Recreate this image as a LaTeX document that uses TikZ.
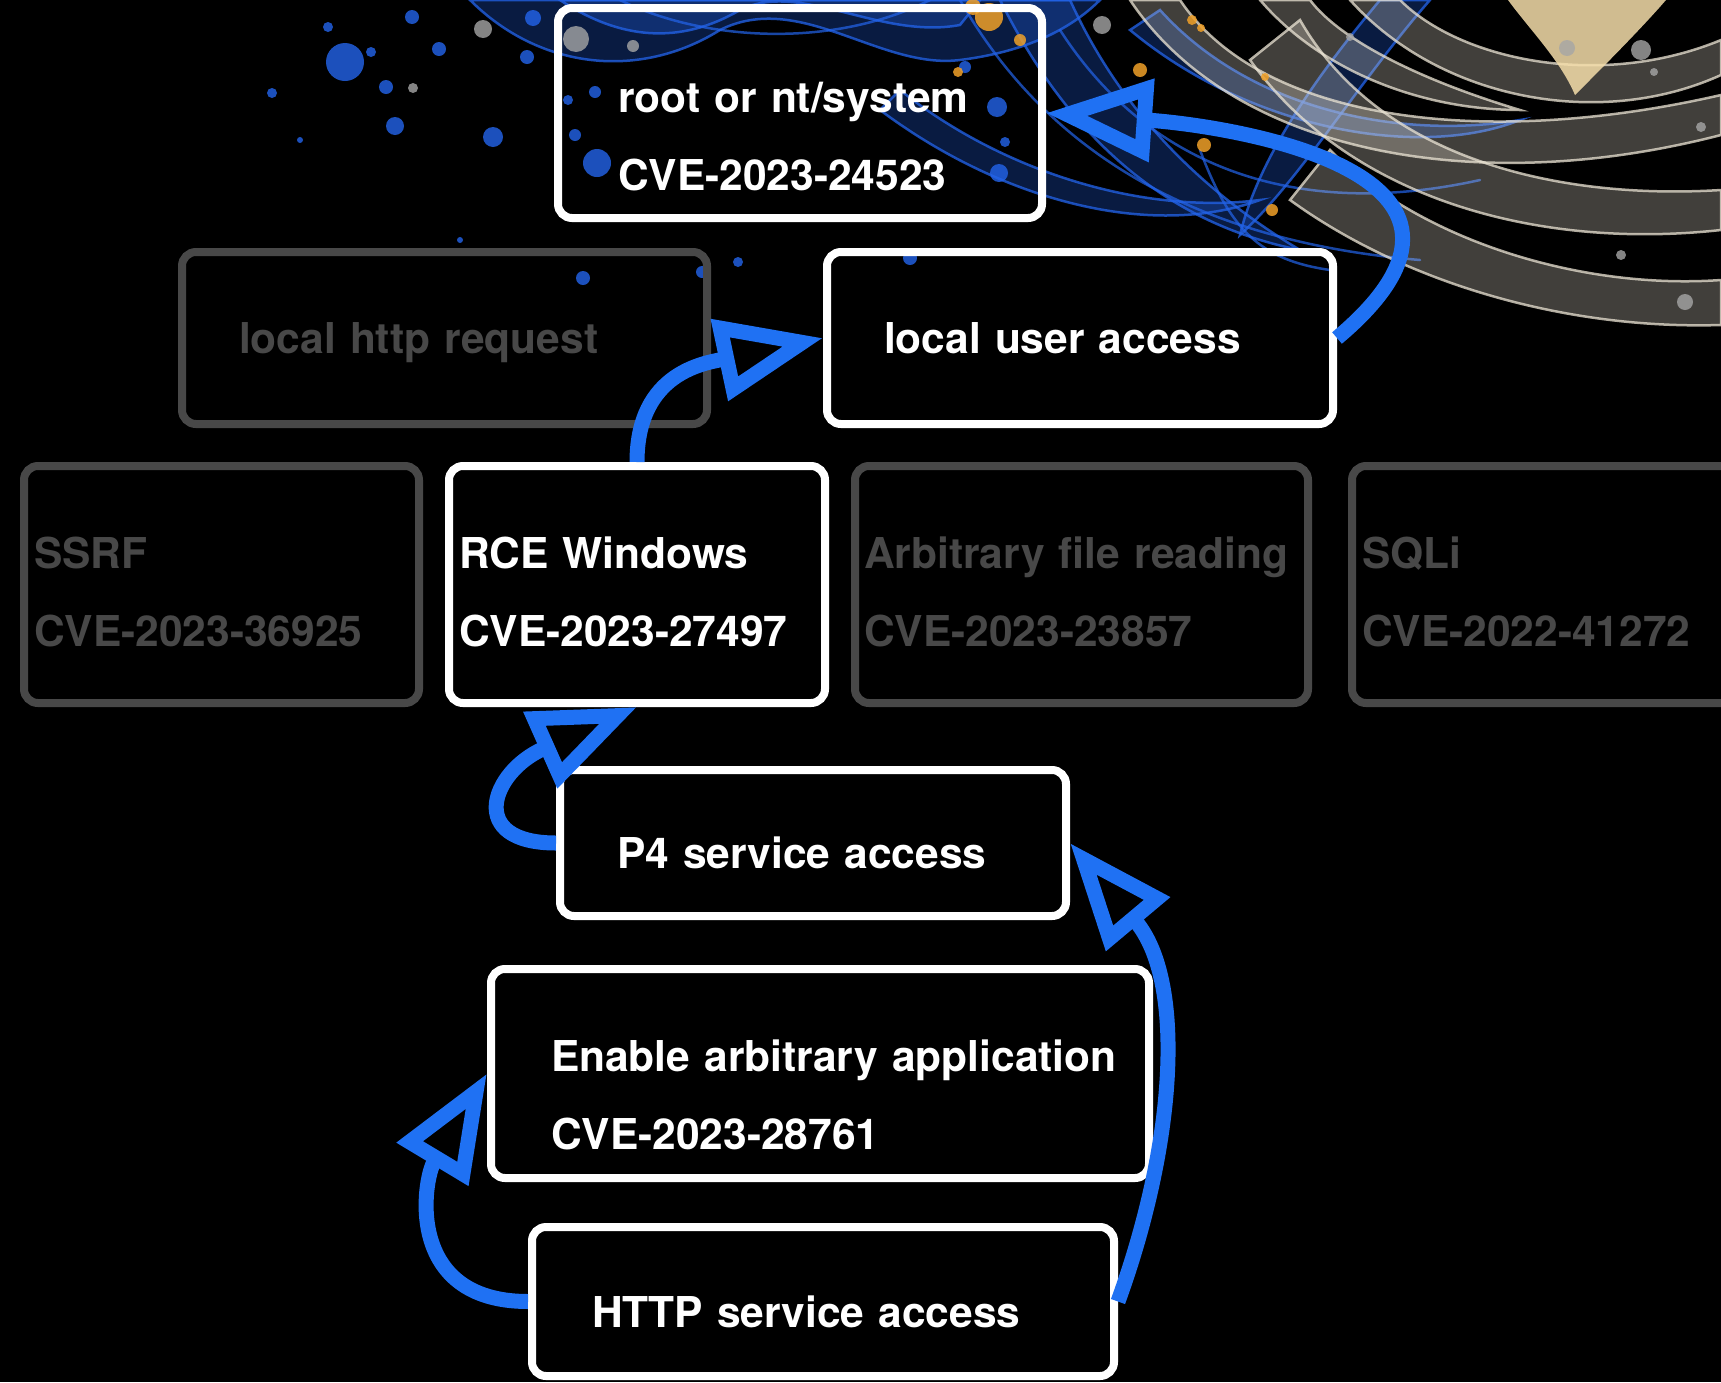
\documentclass[tikz,border=0pt]{standalone}
\usepackage{fontspec}
\setmainfont{TeX Gyre Heros}
\usetikzlibrary{arrows.meta}

\definecolor{flowblue}{RGB}{31,113,243}
\definecolor{fadegray}{RGB}{72,72,72}
\definecolor{inkblue}{RGB}{35,100,235}
\definecolor{smoke}{RGB}{235,228,212}
\definecolor{sand}{RGB}{245,222,170}
\definecolor{amber}{RGB}{240,160,40}

\begin{document}
\begin{tikzpicture}[x=1pt, y=1pt,
  stage/.style={draw=white, text=white, line width=8pt, rounded corners=14pt,
    inner sep=0pt, text height=60pt, font=\fontsize{42.5}{78}\selectfont\bfseries},
  faded/.style={stage, draw=fadegray, text=fadegray},
  boxsize/.style 2 args={minimum width=#1, minimum height=#2, text width=#1},
  pad/.style={execute at begin node={\leftskip=#1}},
  flow/.style={draw=flowblue, line width=15pt,
    -{Triangle[open, length=106pt, width=80pt]}},
  ribbon/.style={fill=#1, fill opacity=.28, draw=#1, draw opacity=.75, line width=2.5pt}]
\useasboundingbox (0,0) rectangle (1721,-1382);
\fill[black] (0,0) rectangle (1721,-1382);
\clip (0,0) rectangle (1721,-1382);

% background swirl and splashes
\begin{scope}[yscale=-1, line cap=round]
  % blue smoke
  \path[ribbon=inkblue] (470,0) .. controls (540,70) and (640,80) .. (720,30)
    .. controls (800,-10) and (880,70) .. (960,60) .. controls (1040,50) and (1080,20) .. (1100,0) -- cycle;
  \path[ribbon=inkblue] (560,0) .. controls (620,40) and (680,45) .. (740,10)
    .. controls (800,-20) and (880,40) .. (960,25) -- (980,0) -- cycle;
  \path[ribbon=inkblue] (1000,0) .. controls (1060,120) and (1150,220) .. (1300,250)
    .. controls (1200,190) and (1120,110) .. (1070,0) -- cycle;
  \path[ribbon=inkblue] (880,110) .. controls (1000,200) and (1150,240) .. (1260,200)
    .. controls (1140,215) and (1000,170) .. (900,90) -- cycle;
  \path[ribbon=inkblue] (1240,235) .. controls (1260,150) and (1330,60) .. (1380,0)
    -- (1430,0) .. controls (1360,80) and (1300,180) .. cycle;
  \path[ribbon=inkblue] (1130,30) .. controls (1250,130) and (1420,160) .. (1520,120)
    .. controls (1400,140) and (1250,110) .. (1160,10) -- cycle;
  \foreach \p in {
    {(620,0) .. controls (700,40) and (830,50) .. (930,0)},
    {(960,0) .. controls (1040,140) and (1180,240) .. (1420,260)},
    {(1060,30) .. controls (1150,170) and (1300,220) .. (1480,180)},
    {(1200,150) .. controls (1230,230) and (1260,260) .. (1330,270)}}
    \draw[inkblue, line width=2.5pt, opacity=.7] \p;
  % pale smoke
  \path[ribbon=smoke] (1180,0) .. controls (1260,120) and (1480,150) .. (1721,95)
    -- (1721,135) .. controls (1470,200) and (1230,150) .. (1130,0) -- cycle;
  \path[ribbon=smoke] (1300,20) .. controls (1380,160) and (1560,200) .. (1721,190)
    -- (1721,230) .. controls (1540,250) and (1350,200) .. (1250,60) -- cycle;
  \path[ribbon=smoke] (1330,150) .. controls (1420,240) and (1580,290) .. (1721,280)
    -- (1721,325) .. controls (1560,330) and (1400,280) .. (1290,200) -- cycle;
  \path[ribbon=smoke] (1400,0) .. controls (1460,60) and (1600,90) .. (1721,40)
    -- (1721,75) .. controls (1600,130) and (1440,100) .. (1350,0) -- cycle;
  \path[ribbon=smoke] (1260,0) .. controls (1320,70) and (1420,110) .. (1520,110)
    .. controls (1420,80) and (1340,40) .. (1310,0) -- cycle;
  \fill[sand, opacity=.85] (1508,0) -- (1666,0) .. controls (1640,30) and (1600,70) .. (1575,95)
    .. controls (1560,60) and (1530,30) .. cycle;
  \foreach \x/\y/\r in {345/62/19, 439/49/7, 386/87/7, 395/126/9, 493/137/10, 527/57/7,
      328/27/5, 412/17/7, 371/52/5, 575/135/6, 597/163/14, 595/92/6, 568/100/5, 583/278/7,
      533/18/8, 272/93/5, 997/107/10, 1005/142/5, 999/173/9, 965/67/6, 702/272/6,
      738/262/5, 910/258/7, 460/240/3, 300/140/3}
    \fill[inkblue, opacity=.8] (\x,\y) circle (\r);
  \foreach \x/\y/\r in {989/17/14, 973/7/8, 958/72/5, 1192/20/5, 1201/28/4, 1140/70/7,
      1204/145/7, 1272/210/6, 1265/77/4, 1020/40/6}
    \fill[amber, opacity=.85] (\x,\y) circle (\r);
  \foreach \x/\y/\r in {483/29/9, 413/88/5, 576/39/13, 633/46/6, 1102/25/9, 1621/255/5,
      1685/302/8, 1641/50/10, 1701/127/5, 1350/37/4, 1654/72/4, 1567/48/8}
    \fill[gray!70, opacity=.8] (\x,\y) circle (\r);
\end{scope}

\node[stage, boxsize={484pt}{210pt}, pad=60pt, text depth=62pt] (root) at (800,-113) {root or nt/system\\CVE-2023-24523};
\node[faded, boxsize={525pt}{172pt}, pad=57pt, text depth=30pt] (lhttp) at (444.5,-338) {local http request};
\node[stage, boxsize={506pt}{172pt}, pad=57pt, text depth=30pt] (luser) at (1080,-338) {local user access};
\node[faded, boxsize={395pt}{237pt}, pad=10pt, text depth=93pt] (ssrf) at (221.5,-584.5) {SSRF\\CVE-2023-36925};
\node[stage, boxsize={376pt}{237pt}, pad=10pt, text depth=93pt] (rce) at (637,-584.5) {RCE Windows\\CVE-2023-27497};
\node[faded, boxsize={453pt}{237pt}, pad=9pt, text depth=93pt] (afr) at (1081.5,-584.5) {Arbitrary file reading\\CVE-2023-23857};
\node[faded, boxsize={408pt}{237pt}, pad=10pt, text depth=93pt] (sqli) at (1556,-584.5) {SQLi\\CVE-2022-41272};
\node[stage, boxsize={506pt}{146pt}, pad=57pt, text depth=10pt] (p4) at (813,-843) {P4 service access};
\node[stage, boxsize={658pt}{209pt}, pad=60pt, text depth=65pt] (enable) at (820,-1073.5) {Enable arbitrary application\\CVE-2023-28761};
\node[stage, boxsize={582pt}{149pt}, pad=60pt, text depth=9pt] (http) at (823,-1301.5) {HTTP service access};

\draw[flow] (http.west) to[out=180, in=239, out distance=124pt, in distance=124pt] (enable.west);
\draw[flow] (http.east) to[out=70, in=-50, out distance=170pt, in distance=180pt] (p4.east);
\draw[flow] (p4.west) to[out=180, in=204, out distance=90pt, in distance=160pt] (rce.south);
\draw[flow] (rce.north) to[out=90, in=192, out distance=90pt, in distance=120pt] (luser.west);
\draw[flow] (luser.east) to[out=40, in=-4, out distance=260pt, in distance=180pt] (root.east);
\end{tikzpicture}
\end{document}
